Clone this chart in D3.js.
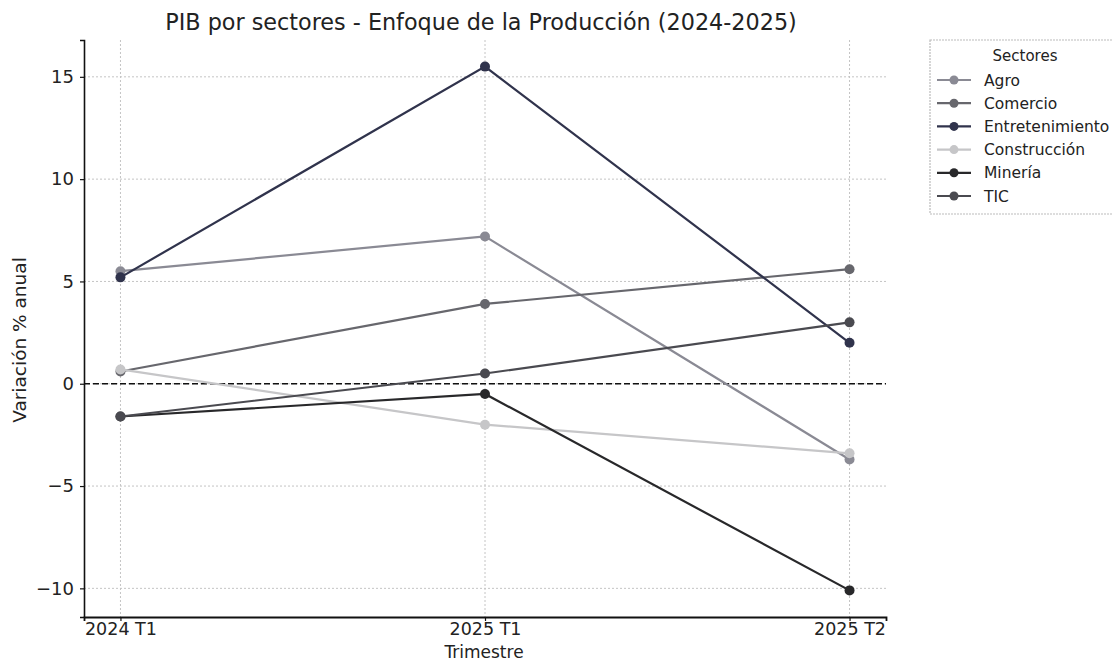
<!DOCTYPE html>
<html><head><meta charset="utf-8">
<script src="https://cdn.jsdelivr.net/npm/d3@7"></script>
<style>body{margin:0;background:#fff;} text{font-family:"DejaVu Sans",sans-serif;}</style>
</head><body>
<svg id="c" width="1113" height="662"></svg>
<script>
const categories = ["2024 T1", "2025 T1", "2025 T2"];
const seriesNames = ["Agro", "Comercio", "Entretenimiento", "Construcción", "Minería", "TIC"];
const agro = [5.5, 7.2, -3.7];
const comercio = [0.6, 3.9, 5.6];
const entretenimiento = [5.2, 15.5, 2.0];
const construccion = [0.7, -2.0, -3.4];
const mineria = [-1.6, -0.5, -10.1];
const tic = [-1.6, 0.5, 3.0];
const yTicks = [-10, -5, 0, 5, 10, 15];
const colors = ["#8a8a94", "#67676d", "#30334c", "#c6c6c8", "#28282a", "#4a4a50"];

const seriesValues = [agro, comercio, entretenimiento, construccion, mineria, tic];
const series = seriesNames.map((n, i) => ({name: n, values: seriesValues[i], color: colors[i]}));

const svg = d3.select("#c");
const L = 84, R = 886, T = 40, B = 617;
const x = d3.scaleLinear().domain([-0.1, 2.1]).range([L, R]);
const y = d3.scaleLinear().domain([-11.4, 16.8]).range([B, T]);

// grid
const g = svg.append("g");
g.selectAll("line.hg").data(yTicks).join("line")
  .attr("x1", L).attr("x2", R).attr("y1", d => y(d)).attr("y2", d => y(d))
  .attr("stroke", "#c4c4c4").attr("stroke-width", 1).attr("stroke-dasharray", "2,2");
g.selectAll("line.vg").data(categories).join("line")
  .attr("x1", (d, i) => x(i)).attr("x2", (d, i) => x(i)).attr("y1", T).attr("y2", B)
  .attr("stroke", "#c4c4c4").attr("stroke-width", 1).attr("stroke-dasharray", "2,2");

// zero line
svg.append("line").attr("x1", L).attr("x2", R).attr("y1", y(0)).attr("y2", y(0))
  .attr("stroke", "#111").attr("stroke-width", 1.6).attr("stroke-dasharray", "6,3");

// axes
const yAxis = d3.axisLeft(y).tickValues(yTicks).tickSize(4).tickPadding(6)
  .tickFormat(d => d < 0 ? "\u2212" + Math.abs(d) : String(d));
const ya = svg.append("g").attr("transform", `translate(${L},0)`).call(yAxis);
ya.select(".domain").attr("stroke", "#111").attr("stroke-width", 1.6);
ya.selectAll(".tick line").attr("stroke", "#111").attr("stroke-width", 1.2);
ya.selectAll(".tick text").attr("font-size", 18).attr("fill", "#222").attr("font-family", "DejaVu Sans");

const xAxis = d3.axisBottom(x).tickValues([0, 1, 2]).tickSize(4).tickPadding(2)
  .tickFormat(i => categories[i]);
const xa = svg.append("g").attr("transform", `translate(0,${B})`).call(xAxis);
xa.select(".domain").attr("stroke", "#111").attr("stroke-width", 1.8);
xa.selectAll(".tick line").attr("stroke", "#111").attr("stroke-width", 1.2);
xa.selectAll(".tick text").attr("font-size", 17.5).attr("fill", "#222").attr("font-family", "DejaVu Sans");

// lines
const line = d3.line().x((d, i) => x(i)).y(d => y(d));
series.forEach(s => {
  svg.append("path").datum(s.values).attr("d", line)
    .attr("fill", "none").attr("stroke", s.color).attr("stroke-width", 2.2);
  svg.selectAll(null).data(s.values).join("circle")
    .attr("cx", (d, i) => x(i)).attr("cy", d => y(d)).attr("r", 5)
    .attr("fill", s.color);
});

// title and labels
svg.append("text").attr("x", 481).attr("y", 30).attr("text-anchor", "middle")
  .attr("font-size", 22.3).attr("fill", "#222")
  .text("PIB por sectores - Enfoque de la Producción (2024-2025)");
svg.append("text").attr("x", 484).attr("y", 658).attr("text-anchor", "middle")
  .attr("font-size", 17).attr("fill", "#222").text("Trimestre");
svg.append("text").attr("transform", `translate(26,340) rotate(-90)`)
  .attr("text-anchor", "middle").attr("font-size", 18.5).attr("fill", "#222")
  .text("Variación % anual");

// legend
const lg = svg.append("g");
lg.append("rect").attr("x", 930).attr("y", 40).attr("width", 190).attr("height", 174)
  .attr("fill", "#fff").attr("stroke", "#bbb").attr("stroke-width", 1.2).attr("stroke-dasharray", "2,1");
lg.append("text").attr("x", 1025).attr("y", 61).attr("text-anchor", "middle")
  .attr("font-size", 15).attr("fill", "#222").text("Sectores");
series.forEach((s, i) => {
  const yy = 80 + i * 23.2;
  lg.append("line").attr("x1", 937).attr("x2", 971).attr("y1", yy).attr("y2", yy)
    .attr("stroke", s.color).attr("stroke-width", 2.2);
  lg.append("circle").attr("cx", 954).attr("cy", yy).attr("r", 4.5).attr("fill", s.color);
  lg.append("text").attr("x", 984).attr("y", yy + 5.5).attr("font-size", 15.5)
    .attr("fill", "#222").text(s.name);
});
</script>
</body></html>
